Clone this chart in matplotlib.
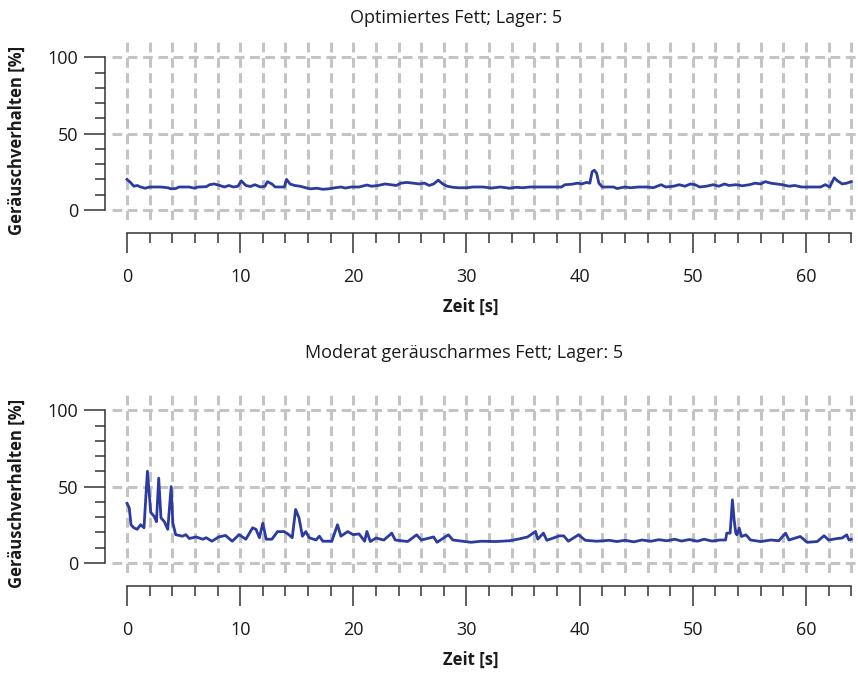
import matplotlib
matplotlib.use("Agg")
import matplotlib.pyplot as plt
from matplotlib.ticker import FixedLocator

plt.rcParams["font.family"] = ["Open Sans", "DejaVu Sans"]

# Optimiertes Fett, Lager 5
zeit_oben = [0, 0.3, 0.6, 0.9, 1.2, 1.6, 2.0, 3.0, 3.6, 3.9, 4.3, 4.6, 5.5, 5.9, 6.3, 7.0,
             7.3, 7.7, 8.2, 8.6, 9.0, 9.4, 9.8, 10.1, 10.5, 10.9, 11.3, 11.8, 12.2, 12.4,
             12.8, 13.1, 13.9, 14.1, 14.4, 14.8, 15.3, 15.8, 16.2, 16.8, 17.3, 17.8, 18.4,
             18.9, 19.3, 19.8, 20.5, 21.2, 21.6, 22.2, 22.8, 23.3, 23.8, 24.2, 24.7, 25.3,
             25.8, 26.3, 26.7, 27.1, 27.5, 27.9, 28.3, 28.8, 29.3, 30.0, 30.6, 31.5, 32.2,
             33.0, 33.8, 34.4, 35.0, 35.6, 36.2, 38.4, 38.7, 39.3, 39.8, 40.2, 40.6, 40.9,
             41.1, 41.3, 41.5, 41.7, 42.0, 43.0, 43.3, 44.0, 44.5, 45.2, 46.0, 46.5, 47.2,
             47.6, 48.3, 48.8, 49.3, 49.8, 50.2, 50.6, 51.2, 51.8, 52.3, 52.8, 53.2, 53.8,
             54.4, 55.0, 55.5, 56.0, 56.4, 56.9, 57.4, 57.9, 58.5, 59.0, 59.6, 61.3, 61.7,
             62.1, 62.5, 62.8, 63.2, 63.6, 64.0]
wert_oben = [20, 18, 15.5, 16, 15, 14.2, 15, 15, 14.5, 13.8, 14, 15, 15, 14.3, 15, 15.2,
             16.5, 17, 16, 15, 16, 15, 15.5, 19, 16, 15.3, 16.5, 15, 15.5, 18.5,
             17, 15, 15, 20, 17, 16, 15.5, 14.5, 13.8, 14.2, 13.5, 13.8, 14.5,
             15, 14.3, 15, 15, 16.3, 15.5, 16, 17, 16.5, 16, 17.5, 18, 17.5,
             17, 17.5, 16, 17, 19.5, 17, 15.5, 14.8, 14.5, 14.5, 15, 15, 14.3,
             15, 14.2, 14.8, 14.5, 15, 15, 15, 16.5, 16.8, 17.5, 17, 18, 17.5,
             25, 26, 24, 17.5, 15, 15, 14, 15, 14.5, 15, 15, 14.5, 16.5,
             15, 15.5, 16.5, 15.5, 17, 16.5, 15, 15.5, 16.5, 15.5, 17, 16, 16.5,
             15.8, 16.5, 17.5, 17, 18.5, 17.5, 17, 16.5, 15.5, 16, 15, 15, 16.5,
             15, 21, 19, 17, 17.5, 18.5]

# Moderat geräuscharmes Fett, Lager 5
zeit_unten = [0, 0.2, 0.35, 0.6, 0.9, 1.2, 1.5, 1.8, 2.1, 2.4, 2.6, 2.8, 3.0, 3.3, 3.6, 3.9,
              4.05, 4.3, 4.9, 5.2, 5.5, 6.1, 6.7, 7.0, 7.5, 8.1, 8.7, 9.3, 9.9, 10.5, 11.1,
              11.4, 11.7, 12.0, 12.3, 12.8, 13.3, 13.9, 14.3, 14.6, 14.9, 15.2, 15.5, 15.8,
              16.1, 16.7, 17.0, 17.3, 18.1, 18.6, 18.9, 19.5, 20.0, 20.5, 21.0, 21.2, 21.5,
              22.0, 22.7, 23.4, 23.7, 24.8, 25.6, 26.0, 27.1, 27.4, 28.4, 28.8, 30.4, 31.3,
              32.6, 33.8, 34.6, 35.4, 36.1, 36.3, 36.8, 37.1, 38.2, 38.6, 39.0, 39.9, 40.5,
              41.5, 42.1, 42.6, 43.3, 44.0, 44.8, 45.5, 46.3, 47.0, 47.7, 48.4, 49.0, 49.7,
              50.4, 51.0, 51.7, 52.4, 52.9, 53.0, 53.3, 53.5, 53.65, 53.8, 53.9, 54.1, 54.3,
              54.7, 55.1, 56.0, 56.9, 57.6, 58.2, 58.5, 59.5, 60.1, 61.0, 61.6, 62.0, 62.8,
              63.2, 63.6, 63.8, 64.0]
wert_unten = [39, 36, 25, 23, 22, 25, 23, 60, 33, 30.5, 27, 55.5, 29.5, 27, 22, 50,
              26, 18.5, 17.5, 18.5, 16, 17, 15.5, 16.5, 14.2, 17, 18, 14.2, 18.5, 15.5, 23,
              22, 16.5, 26, 15.5, 15.5, 20.5, 20.5, 18.5, 16.5, 35, 29.5, 17.5, 20.5,
              16.5, 15, 17.5, 14.2, 14.2, 25, 17.5, 20.5, 18.5, 19, 14.2, 20.6, 14,
              16.3, 15, 19.5, 15, 14, 18.4, 15, 17, 13.5, 18.4, 15, 13.5, 14.2,
              14, 14.5, 15.6, 17, 20.6, 15.6, 19.5, 14.8, 17.7, 17.7, 14.2, 18.4, 14.8,
              14.2, 14.5, 14.8, 14, 14.8, 13.8, 15, 14.2, 15.2, 14.5, 15.5, 14.3, 15.3,
              14.2, 15.5, 14.3, 15, 15, 19.5, 19.5, 41.3, 28.3, 19.5, 18.4, 22.8, 17.3,
              18.4, 15, 14, 15, 14.5, 19.5, 15, 17.3, 13.5, 14, 17.8, 15, 16,
              16.3, 18.4, 15, 15.5]

titel = ["Optimiertes Fett; Lager: 5", "Moderat geräuscharmes Fett; Lager: 5"]

x_haupt = [0, 10, 20, 30, 40, 50, 60]
x_neben = [0, 2, 4, 6, 8, 10, 12, 14, 16, 18, 20, 22, 24, 26, 28, 30, 32,
           34, 36, 38, 40, 42, 44, 46, 48, 50, 52, 54, 56, 58, 60, 62, 64]
y_haupt = [0, 50, 100]
y_neben = [10, 20, 30, 40, 60, 70, 80, 90]

fig = plt.figure(figsize=(8.58, 6.76), dpi=100)
ax1 = fig.add_axes([0.1305, 0.6746, 0.8695, 0.2633])
ax2 = fig.add_axes([0.1305, 0.1524, 0.8695, 0.2633])

linienfarbe = "#2c3ba0"
gitter = dict(color="#c4c4c4", linewidth=2.2, linestyle=(0, (3.2, 1.8)))

for ax, t, v in [(ax1, zeit_oben, wert_oben), (ax2, zeit_unten, wert_unten)]:
    ax.plot(t, v, color=linienfarbe, linewidth=2.0, zorder=3)
    ax.set_xlim(-1.33, 64.6)
    ax.set_ylim(-6.6, 110)

    ax.xaxis.set_major_locator(FixedLocator(x_haupt))
    ax.xaxis.set_minor_locator(FixedLocator(x_neben))
    ax.yaxis.set_major_locator(FixedLocator(y_haupt))
    ax.yaxis.set_minor_locator(FixedLocator(y_neben))

    ax.grid(which="both", axis="x", **gitter)
    ax.grid(which="major", axis="y", **gitter)
    ax.set_axisbelow(True)

    for s in ["top", "right"]:
        ax.spines[s].set_visible(False)
    ax.spines["left"].set_position(("outward", 5))
    ax.spines["left"].set_bounds(0, 100)
    ax.spines["bottom"].set_position(("outward", 9.4))
    ax.spines["bottom"].set_bounds(0, 64)
    for s in ["left", "bottom"]:
        ax.spines[s].set_color("#333333")
        ax.spines[s].set_linewidth(1.1)

    ax.tick_params(axis="x", which="major", length=14.4, width=1.1, color="#333333",
                   pad=11, labelsize=13, labelcolor="#1a1a1a")
    ax.tick_params(axis="x", which="minor", length=7.2, width=1.1, color="#333333")
    ax.tick_params(axis="y", which="major", length=15, width=1.1, color="#333333",
                   pad=4, labelsize=13, labelcolor="#1a1a1a")
    ax.tick_params(axis="y", which="minor", length=7.2, width=1.1, color="#333333")

    ax.set_xlabel("Zeit [s]", fontsize=12, fontweight="bold", color="#1a1a1a")
    ax.set_ylabel("Geräuschverhalten [%]", fontsize=12, fontweight="bold", color="#1a1a1a")
    ax.xaxis.set_label_coords(0.481, -0.438)
    ax.yaxis.set_label_coords(-0.115, 0.449)

fig.text(456 / 858, 1 - 18 / 676, titel[0], ha="center", va="center", fontsize=13, color="#1a1a1a")
fig.text(464 / 858, 1 - 353 / 676, titel[1], ha="center", va="center", fontsize=13, color="#1a1a1a")

fig.savefig("out.png", dpi=100)
